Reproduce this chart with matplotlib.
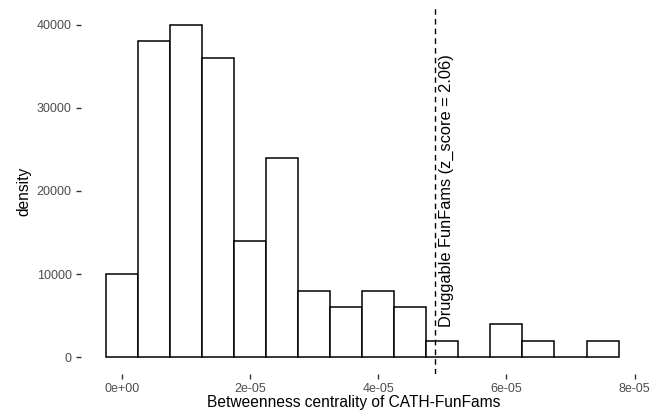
import matplotlib.pyplot as plt
import numpy as np

# histogram bins (centres) and densities
bin_centres = [0e-6, 5e-6, 10e-6, 15e-6, 20e-6, 25e-6, 30e-6, 35e-6,
               40e-6, 45e-6, 50e-6, 55e-6, 60e-6, 65e-6, 70e-6, 75e-6]
densities = [10000, 38000, 40000, 36000, 14000, 24000, 8000, 6000,
             8000, 6000, 2000, 0, 4000, 2000, 0, 2000]
bin_width = 5e-6
cutoff = 4.89e-05
cutoff_label = "Druggable FunFams (z_score = 2.06)"
x_ticks = [0, 2e-05, 4e-05, 6e-05, 8e-05]
x_tick_labels = ["0e+00", "2e-05", "4e-05", "6e-05", "8e-05"]
y_ticks = [0, 10000, 20000, 30000, 40000]

plt.rcParams['font.family'] = ['Liberation Sans', 'DejaVu Sans']

fig = plt.figure(figsize=(6.5, 4.16), dpi=100)
ax = fig.add_axes([0.124, 0.101, 0.867, 0.880])

ax.bar(bin_centres, densities, width=bin_width, facecolor='white',
       edgecolor='black', linewidth=1.1)
ax.axvline(cutoff, color='black', linestyle=(0, (4, 3)), linewidth=1.0)
ax.annotate(cutoff_label, xy=(cutoff, 20000), xytext=(2.5, 0),
            textcoords='offset points', rotation=90, ha='left', va='center',
            fontsize=11.8, color='black')

lo = bin_centres[0] - bin_width / 2
hi = bin_centres[-1] + bin_width / 2
pad = (hi - lo) * 0.05
ax.set_xlim(lo - pad, hi + pad)
ax.set_ylim(-2000, 42000)

ax.set_xticks(x_ticks)
ax.set_xticklabels(x_tick_labels)
ax.set_yticks(y_ticks)
ax.set_yticklabels([str(v) for v in y_ticks])
ax.tick_params(length=3.5, width=1.0, color='#333333', labelcolor='#4d4d4d',
               labelsize=9, pad=3)
for s in ax.spines.values():
    s.set_visible(False)

ax.set_xlabel("Betweenness centrality of CATH-FunFams", fontsize=11.2, labelpad=1)
ax.xaxis.set_label_coords(0.485, -0.057)
ax.set_ylabel("density", fontsize=11.2, labelpad=4)

fig.savefig("out.png", dpi=100)
